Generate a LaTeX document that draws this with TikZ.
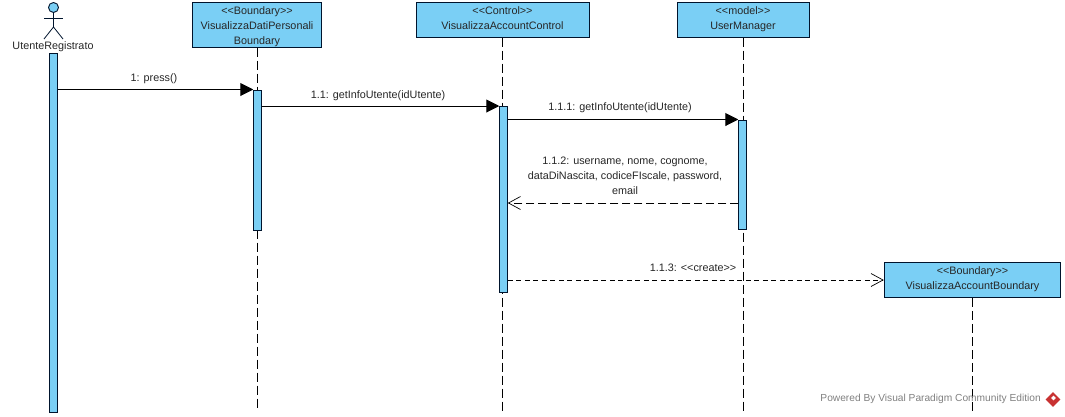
\documentclass[tikz,border=0pt]{standalone}
\usepackage{fontspec}
\setmainfont{Liberation Sans}
\usepackage{xcolor}
\usetikzlibrary{shapes.geometric, arrows.meta, positioning}
\definecolor{vpblue}{RGB}{122,207,245}
\definecolor{vpline}{RGB}{0,20,45}
\definecolor{vpred}{RGB}{200,50,50}
\newcommand{\toppad}{\rule{0pt}{12pt}}
\newcommand{\botpad}{\rule[-3.2pt]{0pt}{0pt}}
\tikzset{
    classbox/.style={rectangle, draw=vpline, line width=1pt, fill=vpblue, inner sep=0pt, text centered, align=center, text=black!85, font=\fontsize{10.8}{15}\selectfont},
    activation/.style={rectangle, draw=vpline, line width=0.9pt, fill=vpblue, minimum width=7.6pt, inner sep=0pt, anchor=north},
    lifeline/.style={black, line width=1pt, dash pattern=on 9pt off 4pt},
    label/.style={inner sep=0pt, align=center, text=black!85, font=\fontsize{10.8}{15}\selectfont},
    call/.style={-{Triangle[length=13pt,width=13pt]}, black, line width=1pt},
    return/.style={-{Straight Barb[length=12pt,width=13pt,line width=0.7pt]}, black, line width=0.9pt, dash pattern=on 8pt off 4pt},
    create/.style={-{Straight Barb[length=12pt,width=13pt,line width=0.7pt]}, black, line width=0.9pt, dash pattern=on 5pt off 3.5pt}
}
\begin{document}
\begin{tikzpicture}[x=1pt, y=-1pt]
    \useasboundingbox (0,0) rectangle (1065,416);

    % Class boxes
    \node[classbox, minimum width=129pt, minimum height=44.5pt] (bnd1) at (257,24.75) {\toppad <{}<Boundary>{}> \\ VisualizzaDatiPersonali \\ Boundary};
    \node[classbox, minimum width=173pt, minimum height=34.5pt] (ctrl) at (502.5,19.75) {<{}<Control>{}> \\ VisualizzaAccountControl\botpad};
    \node[classbox, minimum width=132pt, minimum height=34.5pt] (mgr) at (743,19.75) {<{}<model>{}> \\ UserManager\botpad};
    \node[classbox, minimum width=176.5pt, minimum height=34.5pt] (bnd2) at (972.5,280) {<{}<Boundary>{}> \\ VisualizzaAccountBoundary\botpad};

    % Actor
    \node[circle, draw=vpline, line width=0.9pt, fill=vpblue, minimum size=10pt, inner sep=0pt] (head) at (53.5,7.5) {};
    \node[label] (actor) at (53,47) {UtenteRegistrato};
    \coordinate (hip) at (53.5,27);
    \coordinate (armL) at (44,18);
    \coordinate (armR) at (63,18);
    \coordinate (footL) at (44,39);
    \coordinate (footR) at (63,39);
    \draw[vpline, line width=0.8pt] (head) -- (hip);
    \draw[vpline, line width=0.8pt] (armL) -- (armR);
    \draw[vpline, line width=0.8pt] (footL) -- (hip) -- (footR);

    % Lifelines
    \coordinate (end1) at (257,411);
    \coordinate (end2) at (502.5,411);
    \coordinate (end3) at (743,411);
    \coordinate (end4) at (972.5,411);
    \draw[lifeline] (bnd1) -- (end1);
    \draw[lifeline] (ctrl) -- (end2);
    \draw[lifeline] (mgr) -- (end3);
    \draw[lifeline] (bnd2) -- (end4);

    % Activations
    \node[activation, minimum height=359pt] (act1) at (53.5,52.5) {};
    \node[activation, minimum height=140.5pt] (act2) at (257.5,89.5) {};
    \node[activation, minimum height=185.5pt] (act3) at (503.5,106) {};
    \node[activation, minimum height=109pt] (act4) at (742.5,119.5) {};

    % Messages
    \coordinate (ret) at (0,203);
    \draw[call] (act1.east |- act2.north) -- (act2.north west);
    \draw[call] (act2.east |- act3.north) -- (act3.north west);
    \draw[call] (act3.east |- act4.north) -- (act4.north west);
    \draw[return] (act4.west |- ret) -- (act3.east |- ret);
    \draw[create] (act3.east |- bnd2.west) -- (bnd2.west);

    % Message labels
    \node[label] (msg1) at (154,79) {1: press()};
    \node[label] (msg2) at (378,96) {1.1: getInfoUtente(idUtente)};
    \node[label] (msg3) at (620,108) {1.1.1: getInfoUtente(idUtente)};
    \node[label] (msg4) at (625,175.5) {1.1.2: username, nome, cognome, \\ dataDiNascita, codiceFIscale, password, \\ email};
    \node[label] (msg5) at (693,268) {1.1.3: <{}<create>{}>};

    % Watermark
    \node[label, anchor=east, text=black!50, font=\fontsize{10.2}{15}\selectfont] (mark) at (1041,399) {Powered By Visual Paradigm Community Edition};
    \node[diamond, fill=vpred, minimum size=15pt, inner sep=0pt] (logo) at (1053,399.5) {};
    \node[diamond, fill=white, minimum size=5pt, inner sep=0pt] (logoin) at (1053.5,398) {};
\end{tikzpicture}
\end{document}
